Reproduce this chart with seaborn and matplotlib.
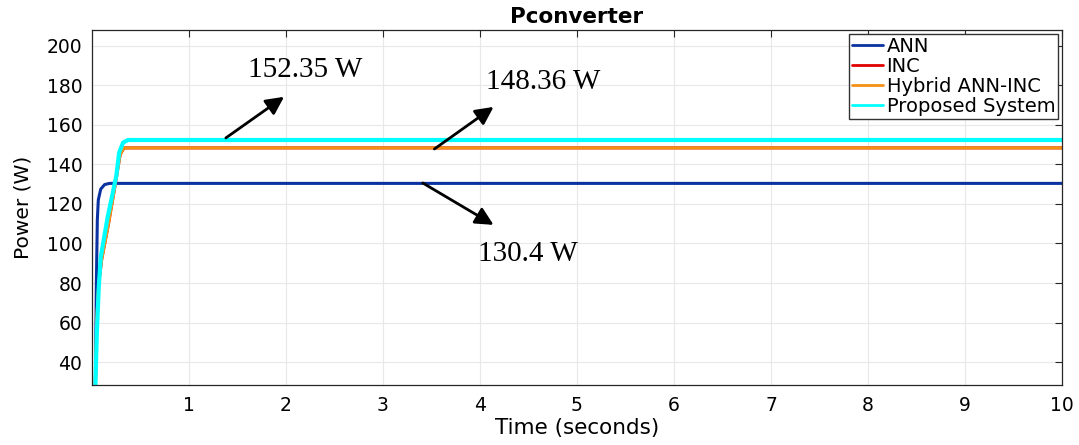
import numpy as np
import pandas as pd
import matplotlib
matplotlib.use("Agg")
import matplotlib.pyplot as plt
import seaborn as sns

# ---- data ----
t_ann = [0.0, 0.035, 0.045, 0.055, 0.065, 0.09, 0.13, 0.18, 10.0]
p_ann = [20.0, 28.0, 80.0, 112.0, 122.0, 127.5, 129.8, 130.4, 130.4]

t_inc = [0.0, 0.035, 0.05, 0.07, 0.10, 0.17, 0.24, 0.29, 0.33, 10.0]
p_inc = [20.0, 28.0, 62.0, 80.0, 92.0, 110.0, 130.0, 145.0, 148.36, 148.36]

t_hyb = [0.0, 0.035, 0.05, 0.07, 0.10, 0.17, 0.24, 0.29, 0.33, 10.0]
p_hyb = [20.0, 28.0, 62.0, 80.0, 92.0, 110.0, 130.0, 145.0, 148.36, 148.36]

t_prop = [0.0, 0.035, 0.05, 0.07, 0.09, 0.16, 0.25, 0.28, 0.32, 0.37, 10.0]
p_prop = [20.0, 28.0, 55.0, 78.0, 93.0, 113.0, 134.0, 146.0, 151.0, 152.35, 152.35]

series_names = ["ANN", "INC", "Hybrid ANN-INC", "Proposed System"]
series_colors = ["#0a32a0", "#e00000", "#f39114", "#00ffff"]
series_widths = [2.2, 2.2, 2.2, 3.0]

x_ticks = [1, 2, 3, 4, 5, 6, 7, 8, 9, 10]
y_ticks = [40, 60, 80, 100, 120, 140, 160, 180, 200]

ann_labels = ["152.35 W", "148.36 W", "130.4 W"]
ann_text_xy = [(2.2, 187.8), (4.65, 181.8), (4.49, 94.5)]
ann_tip_xy = [(1.98, 174.2), (4.14, 169.1), (4.14, 109.4)]
ann_tail_xy = [(1.38, 153.4), (3.53, 147.8), (3.41, 130.6)]

frames = []
for name, t, p in zip(series_names, [t_ann, t_inc, t_hyb, t_prop],
                      [p_ann, p_inc, p_hyb, p_prop]):
    frames.append(pd.DataFrame({"Time": t, "Power": p, "Series": name}))
df = pd.concat(frames, ignore_index=True)

sns.set_theme(style="whitegrid")
plt.rcParams["font.family"] = ["DejaVu Sans"]
plt.rcParams["text.color"] = "black"
plt.rcParams["axes.labelcolor"] = "black"

fig = plt.figure(figsize=(10.79, 4.45), dpi=100)
ax = fig.add_axes([92 / 1079, 1 - 385 / 445, (1062 - 92) / 1079, (385 - 30) / 445])

for name, c, lw in zip(series_names, series_colors, series_widths):
    sub = df[df["Series"] == name]
    sns.lineplot(data=sub, x="Time", y="Power", color=c, linewidth=lw,
                 label=name, ax=ax, sort=False, estimator=None)

ax.set_xlim(0, 10)
ax.set_ylim(28.4, 208)
ax.set_xticks(x_ticks)
ax.set_yticks(y_ticks)
ax.tick_params(axis="both", which="both", direction="in", length=5,
               labelsize=13.5, colors="#262626", top=True, right=True,
               labelcolor="black", width=0.8)
ax.tick_params(axis="x", pad=8)
ax.tick_params(axis="y", pad=7)
ax.grid(True, color="#e8e8e8", linewidth=0.8)
for s in ax.spines.values():
    s.set_color("#262626")
    s.set_linewidth(0.9)
    s.set_visible(True)

ax.set_xlabel("Time (seconds)", fontsize=15.5, labelpad=2, color="black")
ax.set_ylabel("Power (W)", fontsize=14.5, labelpad=10, color="black")
ax.set_title("Pconverter", fontsize=15.5, fontweight="bold", pad=5, color="black")

leg = ax.legend(loc="upper right", fontsize=14, frameon=True, fancybox=False,
                edgecolor="#333333", framealpha=1, borderaxespad=0.2,
                handlelength=1.6, handletextpad=0.2, labelspacing=0.05,
                borderpad=0.15)
leg.get_frame().set_linewidth(1.0)
for txt in leg.get_texts():
    txt.set_color("black")
for h in leg.get_lines():
    h.set_linewidth(2.0)

for lbl, txy, tip, tail in zip(ann_labels, ann_text_xy, ann_tip_xy, ann_tail_xy):
    ax.annotate("", xy=tip, xytext=tail,
                arrowprops=dict(arrowstyle="-|>,head_length=0.9,head_width=0.45",
                                color="black", lw=2.0, shrinkA=0, shrinkB=0))
    ax.text(txy[0], txy[1], lbl, fontsize=21, family="Liberation Serif",
            ha="center", va="center", color="black")

fig.savefig("out.png", dpi=100)
